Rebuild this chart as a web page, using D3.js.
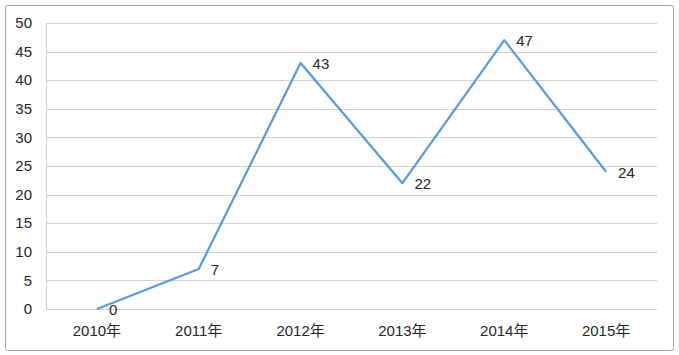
<!DOCTYPE html>
<html><head><meta charset="utf-8">
<script src="https://cdn.jsdelivr.net/npm/d3@7"></script>
<style>body{margin:0;background:#fff}svg{display:block}text{font-family:"Liberation Sans","Noto Sans CJK SC",sans-serif;fill:#262626}</style>
</head><body>
<svg id="c" width="679" height="355"></svg>
<script>
const categories = ["2010年","2011年","2012年","2013年","2014年","2015年"];
const values = [0, 7, 43, 22, 47, 24];
const yTicks = [0,5,10,15,20,25,30,35,40,45,50];

const svg = d3.select("#c");
svg.append("rect").attr("x",5.5).attr("y",5.5).attr("width",668).attr("height",345)
  .attr("fill","#fff").attr("stroke","#a6a6a6").attr("stroke-width",1).attr("rx",2);

const L=46, R=657, T=23, B=309;
const x = d3.scaleBand().domain(categories).range([L,R]);
const y = d3.scaleLinear().domain([0,50]).range([B,T]);

const g = svg.append("g");
g.selectAll("line.grid").data(yTicks).join("line")
  .attr("x1",L).attr("x2",R).attr("y1",d=>Math.round(y(d))+0.5).attr("y2",d=>Math.round(y(d))+0.5)
  .attr("stroke","#d0d0d0").attr("stroke-width",1);
g.append("line").attr("x1",L+0.5).attr("x2",L+0.5).attr("y1",T).attr("y2",B).attr("stroke","#d0d0d0");

g.selectAll("text.yt").data(yTicks).join("text")
  .attr("x",32).attr("y",d=>y(d)).attr("dy","0.35em").attr("text-anchor","end")
  .style("font-size","15px").text(d=>d);
g.selectAll("text.xt").data(categories).join("text")
  .attr("x",d=>x(d)+x.bandwidth()/2).attr("y",331).attr("dy","0.35em").attr("text-anchor","middle")
  .style("font-size","15px").text(d=>d);

const line = d3.line().x((d,i)=>x(categories[i])+x.bandwidth()/2).y(d=>y(d));
g.append("path").datum(values).attr("d",line).attr("fill","none")
  .attr("stroke","#5b9bd5").attr("stroke-width",2.25).attr("stroke-linejoin","round");

g.selectAll("text.lab").data(values).join("text")
  .attr("x",(d,i)=>x(categories[i])+x.bandwidth()/2+12).attr("y",d=>y(d)+1).attr("dy","0.35em")
  .style("font-size","15px").text(d=>d);
</script>
</body></html>
